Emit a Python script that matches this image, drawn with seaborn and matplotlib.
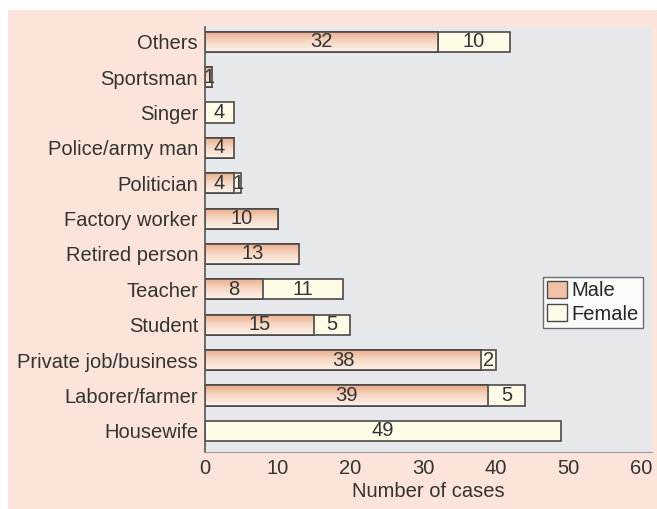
import numpy as np
import pandas as pd
import seaborn as sns
import matplotlib.pyplot as plt
from matplotlib.patches import Rectangle, Patch
from matplotlib.colors import LinearSegmentedColormap

categories = ["Others", "Sportsman", "Singer", "Police/army man", "Politician",
              "Factory worker", "Retired person", "Teacher", "Student",
              "Private job/business", "Laborer/farmer", "Housewife"]
male = [32, 1, 0, 4, 4, 10, 13, 8, 15, 38, 39, 0]
female = [10, 0, 4, 0, 1, 0, 0, 11, 5, 2, 5, 49]

df = pd.DataFrame({"occupation": categories, "Male": male, "Female": female})
df["Total"] = df["Male"] + df["Female"]

sns.set_theme(style="white")
plt.rcParams["font.family"] = ["Liberation Sans", "DejaVu Sans"]

pink = "#fce4da"
grey_bg = "#e6e8eb"
cream = "#fffbe6"
edge = "#4a4a4a"
fs = 14.5

fig = plt.figure(figsize=(6.57, 5.09), dpi=100, facecolor="white")
fig.patches.append(Rectangle((8 / 657, 0), 1, 1 - 10 / 509, transform=fig.transFigure,
                             facecolor=pink, edgecolor="none", zorder=-10))
ax = fig.add_axes([205 / 657, 1 - 452 / 509, 447 / 657, 425 / 509])
ax.set_facecolor(grey_bg)

# total bar in female colour, male bar drawn over its left part
sns.barplot(data=df, y="occupation", x="Total", orient="h", color=cream,
            edgecolor=edge, linewidth=1.2, width=0.57, saturation=1, ax=ax)
n_before = len(ax.patches)
sns.barplot(data=df, y="occupation", x="Male", orient="h", color="#f3c2a6",
            edgecolor=edge, linewidth=1.2, width=0.57, saturation=1, ax=ax)

# gradient fill for male bars
cmap = LinearSegmentedColormap.from_list("m", ["#ecaa88", "#f7d8c5", "#fdf2ea"])
grad = np.linspace(0, 1, 64).reshape(-1, 1)
for p in ax.patches[n_before:]:
    w = p.get_width()
    if w <= 0:
        continue
    x0, y0, h = p.get_x(), p.get_y(), p.get_height()
    im = ax.imshow(grad, cmap=cmap, aspect="auto", origin="upper",
                   extent=[x0, x0 + w, y0 + h, y0], zorder=p.get_zorder() + 0.1)
    im.set_clip_path(p)
    p.set_facecolor("none")
    ax.add_patch(Rectangle((x0, y0), w, h, facecolor="none", edgecolor=edge,
                           linewidth=1.2, zorder=p.get_zorder() + 0.2))

for i, (m, f) in enumerate(zip(male, female)):
    if m > 0:
        ax.text(m / 2, i, str(m), ha="center", va="center", fontsize=fs,
                color="#333333", zorder=5)
    if f > 0:
        ax.text(m + f / 2, i, str(f), ha="center", va="center", fontsize=fs,
                color="#333333", zorder=5)

ax.set_xlim(0, 61.5)
ax.set_ylim(11.6, -0.42)
ax.set_xticks(range(0, 61, 10))
ax.tick_params(axis="both", labelsize=fs, colors="#333333", length=0, pad=5)
ax.set_xlabel("Number of cases", fontsize=fs, color="#333333", labelpad=3)
ax.set_ylabel("")
for s in ["top", "right"]:
    ax.spines[s].set_visible(False)
ax.spines["left"].set_color("#555555")
ax.spines["left"].set_linewidth(1.2)
ax.spines["bottom"].set_color("#9a9a9a")
ax.spines["bottom"].set_linewidth(0.8)

handles = [Patch(facecolor="#f3c2a6", edgecolor=edge, label="Male"),
           Patch(facecolor=cream, edgecolor=edge, label="Female")]
leg = ax.legend(handles=handles, loc="upper right", bbox_to_anchor=(0.98, 0.412),
                fontsize=fs, frameon=True, fancybox=False, handlelength=1.0,
                handleheight=0.9, handletextpad=0.25, borderpad=0.2, labelspacing=0.2,
                borderaxespad=0)
leg.get_frame().set_edgecolor(edge)
leg.get_frame().set_facecolor("white")
leg.get_frame().set_linewidth(1.0)

fig.savefig("out.png", dpi=100, facecolor=fig.get_facecolor())
